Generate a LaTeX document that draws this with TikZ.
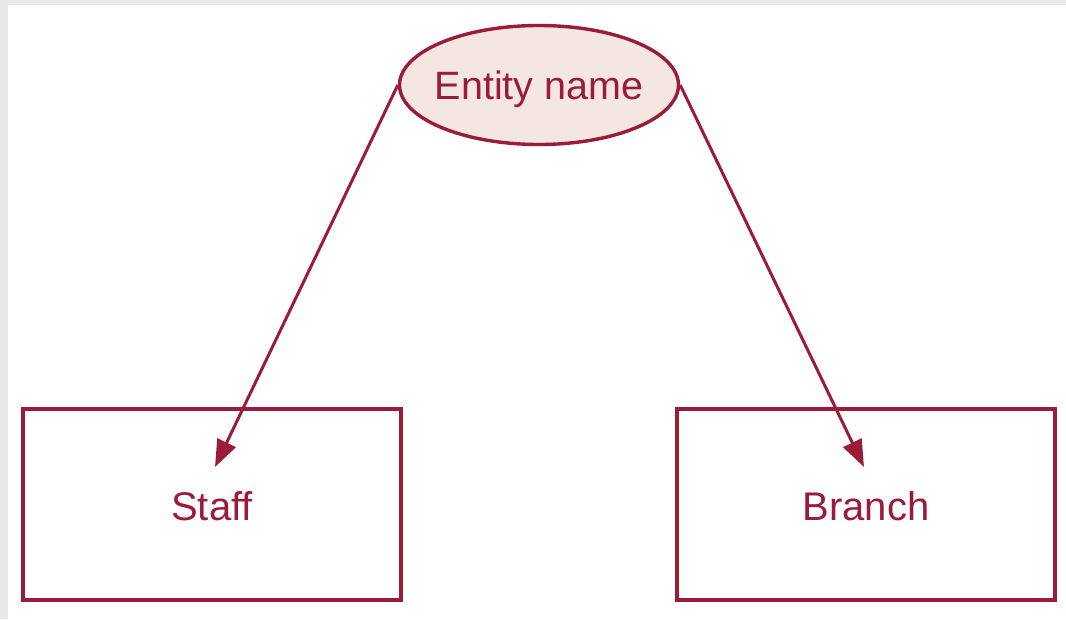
\documentclass[tikz,border=0pt]{standalone}
\usepackage{fontspec}
\setmainfont{Liberation Sans}
\usetikzlibrary{arrows.meta,shapes.geometric}
\definecolor{maroon}{HTML}{9B1B3B}
\definecolor{blush}{HTML}{F4E6E1}
\definecolor{frame}{HTML}{E8E8E8}
% lower a label without changing the size of its node
\newcommand{\dropby}[2]{\raisebox{-#1}[\height][\depth]{#2}}
\begin{document}
\begin{tikzpicture}[x=1pt,y=-1pt,
  line width=3.4pt,
  entitybox/.style={draw=maroon, minimum width=378pt, minimum height=191pt, inner sep=0pt,
    font=\fontsize{40}{48}\selectfont, text=maroon},
  attr/.style={ellipse, draw=maroon, fill=blush, minimum width=279pt, minimum height=119pt,
    inner xsep=-6pt, inner ysep=0pt, font=\fontsize{39.5}{47}\selectfont, text=maroon},
  link/.style={draw=maroon, line width=3pt, -{Triangle[length=27pt,width=20pt]}}]
  % page frame
  \fill[frame] (0,0) rectangle (1066,619);
  \fill[white] (8,5) rectangle (1066,619);
  \useasboundingbox (0,0) rectangle (1066,619);
  % nodes
  \node[attr] (entity) at (539,85) {\dropby{4pt}{Entity name}};
  \node[entitybox] (staff) at (212,504.5) {\dropby{1.5pt}{Staff}};
  \node[entitybox] (branch) at (866,504.5) {\dropby{1.5pt}{Branch}};
  % arrow targets inside the boxes
  \coordinate (staffin) at (215,467);
  \coordinate (branchin) at (864,467);
  % connectors
  \draw[link] (entity.west) -- (staffin);
  \draw[link] (entity.east) -- (branchin);
\end{tikzpicture}
\end{document}
